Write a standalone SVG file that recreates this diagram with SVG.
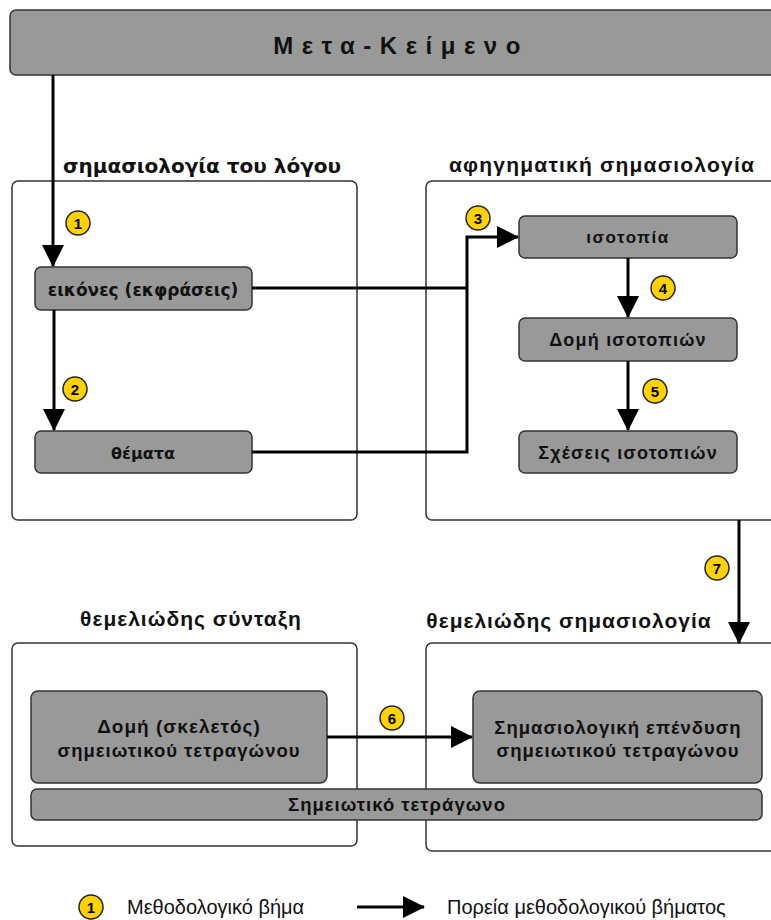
<svg xmlns="http://www.w3.org/2000/svg" width="771" height="920" viewBox="0 0 771 920">
<defs>
<marker id="ah" markerUnits="userSpaceOnUse" markerWidth="22" markerHeight="22" refX="21" refY="11" orient="auto">
<path d="M0,0 L22,11 L0,22 z" fill="#000"/>
</marker>
<style>
.box{fill:#999;stroke:#333;stroke-width:1.5}
.cont{fill:#fff;stroke:#333;stroke-width:1.5}
.con{fill:none;stroke:#000;stroke-width:3}
.badge circle{fill:#ffd200;stroke:#222;stroke-width:1.5}
.badge text{font-family:"Liberation Sans",Arial,sans-serif;font-weight:bold;font-size:15px;text-anchor:middle;fill:#000}
.dv{font-family:"DejaVu Sans",Verdana,sans-serif;font-weight:bold;fill:#111;text-anchor:middle}
.ls{font-family:"Liberation Sans",Arial,sans-serif;font-weight:bold;fill:#111;text-anchor:middle}
.lg{font-family:"Liberation Sans",Arial,sans-serif;font-size:20px;fill:#111}
</style>
</defs>
<g id="meta-keimeno">
<rect x="10" y="10" width="790" height="65" rx="6" class="box"/>
<text x="401" y="54" class="ls" font-size="24" letter-spacing="8.5">Μετα-Κείμενο</text>
</g>
<g id="c1">
<rect x="12" y="181" width="345" height="339" rx="6" class="cont"/>
<text x="202" y="173" class="dv" font-size="20">σημασιολογία του λόγου</text>
</g>
<g id="c2">
<rect x="426" y="181" width="370" height="339" rx="6" class="cont"/>
<text x="602" y="172" class="ls" font-size="21" letter-spacing="1.2">αφηγηματική σημασιολογία</text>
</g>
<g id="c3">
<rect x="12" y="643" width="345" height="203" rx="6" class="cont"/>
<text x="191" y="626" class="ls" font-size="21" letter-spacing="1">θεμελιώδης σύνταξη</text>
</g>
<g id="c4">
<rect x="426" y="643" width="370" height="208" rx="6" class="cont"/>
<text x="569" y="628" class="ls" font-size="21" letter-spacing="1">θεμελιώδης σημασιολογία</text>
</g>
<g id="eikones">
<rect x="35" y="267" width="217" height="43" rx="6" class="box"/>
<text x="143" y="296" class="dv" font-size="17">εικόνες (εκφράσεις)</text>
</g>
<g id="themata">
<rect x="35" y="431" width="217" height="42" rx="6" class="box"/>
<text x="143" y="459" class="dv" font-size="16">θέματα</text>
</g>
<g id="isotopia">
<rect x="519" y="216" width="218" height="42" rx="6" class="box"/>
<text x="628" y="243" class="ls" font-size="17" letter-spacing="1.5">ισοτοπία</text>
</g>
<g id="domi-isotopion">
<rect x="519" y="318" width="218" height="43" rx="6" class="box"/>
<text x="628" y="346" class="ls" font-size="18" letter-spacing="1.2">Δομή ισοτοπιών</text>
</g>
<g id="scheseis">
<rect x="519" y="431" width="218" height="42" rx="6" class="box"/>
<text x="628" y="459" class="ls" font-size="18" letter-spacing="1.2">Σχέσεις ισοτοπιών</text>
</g>
<g id="domi-skeletos">
<rect x="31" y="691" width="296" height="92" rx="7" class="box"/>
<text x="179" y="733" class="ls" font-size="19" letter-spacing="1">Δομή (σκελετός)</text>
<text x="179" y="757" class="ls" font-size="18.5" letter-spacing="1">σημειωτικού τετραγώνου</text>
</g>
<g id="simasiologiki">
<rect x="473" y="691" width="289" height="92" rx="7" class="box"/>
<text x="618" y="734" class="ls" font-size="18.5" letter-spacing="1">Σημασιολογική επένδυση</text>
<text x="618" y="757" class="ls" font-size="18.5" letter-spacing="1">σημειωτικού τετραγώνου</text>
</g>
<g id="simeiotiko">
<rect x="31" y="789" width="731" height="31" rx="6" class="box"/>
<text x="397" y="811" class="ls" font-size="18.5" letter-spacing="1">Σημειωτικό τετράγωνο</text>
</g>
<g id="connectors">
<line x1="53" y1="75" x2="53" y2="266" class="con" marker-end="url(#ah)"/>
<line x1="54" y1="310" x2="54" y2="430" class="con" marker-end="url(#ah)"/>
<polyline points="252,288 467,288" class="con"/>
<polyline points="252,452 467,452 467,237 518,237" class="con" marker-end="url(#ah)"/>
<line x1="628" y1="258" x2="628" y2="317" class="con" marker-end="url(#ah)"/>
<line x1="628" y1="361" x2="628" y2="430" class="con" marker-end="url(#ah)"/>
<line x1="739" y1="520" x2="739" y2="643" class="con" marker-end="url(#ah)"/>
<line x1="327" y1="737" x2="472" y2="737" class="con" marker-end="url(#ah)"/>
</g>
<g id="badges">
<g class="badge"><circle cx="78" cy="223" r="12"/><text x="78" y="228.5">1</text></g>
<g class="badge"><circle cx="75" cy="389" r="12"/><text x="75" y="394.5">2</text></g>
<g class="badge"><circle cx="478" cy="218" r="12"/><text x="478" y="223.5">3</text></g>
<g class="badge"><circle cx="663" cy="288" r="12"/><text x="663" y="293.5">4</text></g>
<g class="badge"><circle cx="655" cy="391" r="12"/><text x="655" y="396.5">5</text></g>
<g class="badge"><circle cx="392" cy="718" r="12"/><text x="392" y="723.5">6</text></g>
<g class="badge"><circle cx="717" cy="568" r="12"/><text x="717" y="573.5">7</text></g>
</g>
<g id="legend">
<g class="badge"><circle cx="91" cy="907" r="12"/><text x="91" y="912.5">1</text></g>
<text x="127" y="914" class="lg">Μεθοδολογικό βήμα</text>
<line x1="357" y1="907" x2="424" y2="907" class="con" marker-end="url(#ah)"/>
<text x="447" y="914" class="lg">Πορεία μεθοδολογικού βήματος</text>
</g>
</svg>
